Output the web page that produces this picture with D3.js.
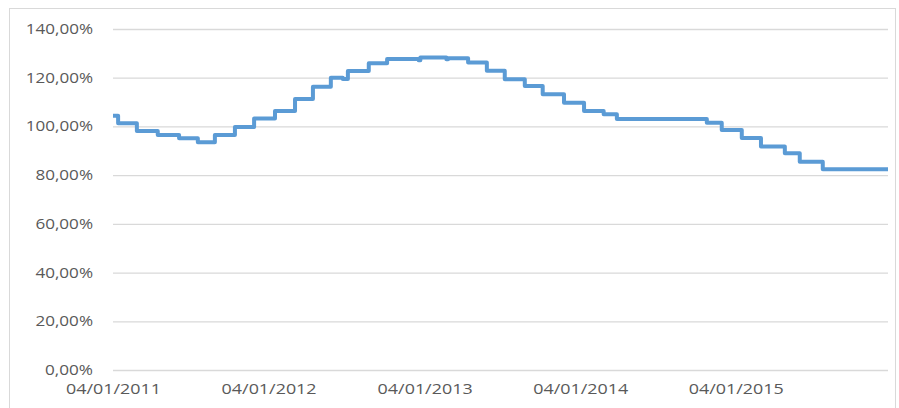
<!DOCTYPE html>
<html><head><meta charset="utf-8">
<script src="https://cdn.jsdelivr.net/npm/d3@7"></script>
<style>body{margin:0;background:#fff}svg{display:block}</style>
</head><body>
<svg id="c" width="899" height="408"></svg>
<script>
// step-change dates (dd/mm/yyyy) and levels (%)
const dates = ["04/01/2011","16/01/2011","01/03/2011","19/04/2011","08/06/2011","22/07/2011","31/08/2011","17/10/2011","01/12/2011",
 "19/01/2012","06/03/2012","17/04/2012","29/05/2012","26/06/2012","08/07/2012","26/08/2012","08/10/2012","21/12/2012","25/12/2012",
 "24/02/2013","28/02/2013","16/04/2013","30/05/2013","11/07/2013","27/08/2013","08/10/2013","27/11/2013",
 "13/01/2014","28/02/2014","31/03/2014","28/10/2014","02/12/2014",
 "18/01/2015","04/03/2015","29/04/2015","03/06/2015","27/07/2015","27/12/2015"];
const values = [104.4,101.3,98.1,96.5,95.1,93.5,96.5,99.8,103.3,
 106.3,111.3,116.3,120.0,119.5,122.8,125.9,127.7,127.2,128.3,
 127.6,128.0,126.2,122.9,119.4,116.6,113.2,109.7,
 106.3,105.0,103.1,101.5,98.5,
 95.3,91.8,89.0,85.5,82.4,82.4];
const yTicks = [0,20,40,60,80,100,120,140];
const xTickLabels = ["04/01/2011","04/01/2012","04/01/2013","04/01/2014","04/01/2015"];

const parse = d3.timeParse("%d/%m/%Y");
const fmtPct = v => v.toFixed(2).replace(".", ",") + "%";
const data = dates.map((d,i)=>({date:parse(d), v:values[i]}));

const svg = d3.select("#c");
svg.append("rect").attr("x",9.5).attr("y",8.5).attr("width",886).attr("height",420)
  .attr("fill","#fff").attr("stroke","#D9D9D9");

const x = d3.scaleTime().domain([data[0].date, data[data.length-1].date]).range([113, 888]);
const y = d3.scaleLinear().domain([0,140]).range([370, 29]);

// gridlines
const yAxis = d3.axisLeft(y).tickValues(yTicks).tickSize(-(888-113)).tickFormat(fmtPct).tickPadding(20);
const gy = svg.append("g").attr("transform","translate(113,0)").call(yAxis);
gy.select(".domain").remove();
gy.selectAll(".tick line").attr("stroke","#D9D9D9").attr("stroke-width",1.3);
gy.selectAll(".tick text").attr("fill","#595959").attr("font-family","'Open Sans', sans-serif")
  .attr("font-size",14).attr("x",-20)
  .each(function(d){ const s = fmtPct(d); d3.select(this).attr("textLength", s.length*9.6).attr("lengthAdjust","spacingAndGlyphs"); });

// x axis labels
const xAxis = d3.axisBottom(x).tickValues(xTickLabels.map(parse)).tickSize(0).tickFormat(d3.timeFormat("%d/%m/%Y")).tickPadding(14);
const gx = svg.append("g").attr("transform","translate(0,370)").call(xAxis);
gx.select(".domain").remove();
gx.selectAll(".tick text").attr("fill","#595959").attr("font-family","'Open Sans', sans-serif")
  .attr("font-size",14).attr("textLength",95).attr("lengthAdjust","spacingAndGlyphs");

// step line
const line = d3.line().x(d=>x(d.date)).y(d=>y(d.v)).curve(d3.curveStepAfter);
svg.append("path").datum(data).attr("d",line).attr("fill","none")
  .attr("stroke","#5B9BD5").attr("stroke-width",4).attr("stroke-linejoin","round");
</script>
</body></html>
